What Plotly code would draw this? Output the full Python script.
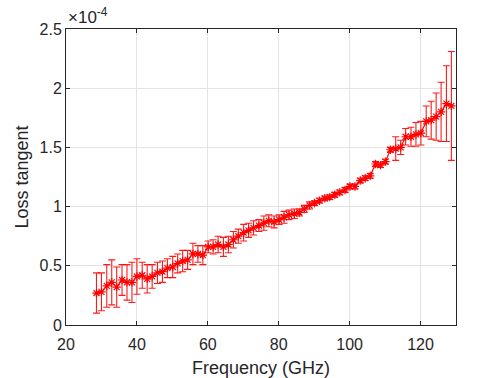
import plotly.graph_objects as go

freq_ghz = [28.6, 30.0, 31.5, 32.9, 34.3, 35.8, 37.2, 38.6, 40.0, 41.5,
            42.9, 44.3, 45.8, 47.2, 48.6, 50.1, 51.5, 52.9, 54.3, 55.8,
            57.2, 58.6, 60.1, 61.5, 62.9, 64.4, 65.8, 67.2, 68.6, 70.1,
            71.5, 72.9, 74.4, 75.8, 77.2, 78.7, 80.1, 81.5, 82.9, 84.4,
            85.8, 87.2, 88.7, 90.1, 91.5, 93.0, 94.4, 95.8, 97.2, 98.7,
            100.1, 101.5, 103.0, 104.4, 105.8, 107.3, 108.7, 110.1, 111.5, 113.0,
            114.4, 115.8, 117.3, 118.7, 120.1, 121.6, 123.0, 124.4, 125.8, 127.3,
            128.7]

loss_tangent_e4 = [0.27, 0.28, 0.33, 0.36, 0.32, 0.38, 0.36, 0.36, 0.41, 0.42,
                   0.39, 0.41, 0.44, 0.45, 0.48, 0.49, 0.52, 0.54, 0.55, 0.60,
                   0.60, 0.59, 0.66, 0.66, 0.68, 0.66, 0.68, 0.72, 0.75, 0.78,
                   0.80, 0.82, 0.84, 0.86, 0.88, 0.87, 0.89, 0.91, 0.93, 0.94,
                   0.95, 0.98, 1.01, 1.03, 1.05, 1.07, 1.08, 1.10, 1.12, 1.14,
                   1.17, 1.17, 1.22, 1.24, 1.26, 1.36, 1.35, 1.38, 1.48, 1.49,
                   1.50, 1.59, 1.59, 1.61, 1.62, 1.72, 1.73, 1.76, 1.80, 1.87,
                   1.85]

error_e4 = [0.17, 0.16, 0.18, 0.19, 0.17, 0.13, 0.15, 0.17, 0.15, 0.11,
            0.12, 0.10, 0.09, 0.09, 0.08, 0.09, 0.08, 0.09, 0.08, 0.09,
            0.07, 0.08, 0.05, 0.06, 0.07, 0.08, 0.07, 0.07, 0.06, 0.07,
            0.06, 0.06, 0.05, 0.06, 0.05, 0.05, 0.04, 0.05, 0.04, 0.04,
            0.03, 0.03, 0.03, 0.02, 0.02, 0.02, 0.02, 0.02, 0.02, 0.02,
            0.02, 0.02, 0.02, 0.02, 0.02, 0.02, 0.02, 0.02, 0.02, 0.10,
            0.06, 0.07, 0.08, 0.10, 0.10, 0.13, 0.16, 0.20, 0.25, 0.32,
            0.46]

x_ticks = [20, 40, 60, 80, 100, 120]
y_ticks = [0, 0.5, 1, 1.5, 2, 2.5]
y_tick_labels = ["0", "0.5", "1", "1.5", "2", "2.5"]

axis_color = "#262626"
grid_color = "#e3e3e3"
font_family = "Liberation Sans, Arial, sans-serif"

fig = go.Figure()
fig.add_trace(go.Scatter(
    x=freq_ghz,
    y=loss_tangent_e4,
    mode="lines+markers",
    line=dict(color="#ff0000", width=1.2),
    marker=dict(symbol="asterisk-open", size=7, color="#ff0000",
                line=dict(color="#ff0000", width=1.2)),
    error_y=dict(type="data", array=error_e4, visible=True,
                 color="rgba(255,0,0,0.9)", thickness=1.1, width=3.5),
    showlegend=False,
))

fig.update_layout(
    width=504, height=378,
    margin=dict(l=66, r=48, t=29, b=53),
    paper_bgcolor="white", plot_bgcolor="white",
    font=dict(family=font_family, size=16, color=axis_color),
    xaxis=dict(
        range=[20, 130], tickvals=x_ticks,
        showgrid=True, gridcolor=grid_color, gridwidth=1,
        showline=True, linecolor=axis_color, linewidth=1, mirror="ticks",
        ticks="inside", ticklen=4, tickcolor=axis_color,
        ticklabelstandoff=5, automargin=False,
        zeroline=False,
        title=dict(text="Frequency (GHz)", font=dict(size=18), standoff=10),
    ),
    yaxis=dict(
        range=[0, 2.5], tickvals=y_ticks, ticktext=y_tick_labels,
        showgrid=True, gridcolor=grid_color, gridwidth=1,
        showline=True, linecolor=axis_color, linewidth=1, mirror="ticks",
        ticks="inside", ticklen=4, tickcolor=axis_color,
        automargin=False,
        zeroline=False,
        title=dict(text="Loss tangent", font=dict(size=18), standoff=6),
    ),
    annotations=[dict(
        text="×10<sup>-4</sup>", xref="paper", yref="paper",
        x=0, y=1, xanchor="left", yanchor="bottom", yshift=0,
        showarrow=False, font=dict(size=17, color=axis_color),
    )],
)

fig.write_html("out.html", config={"displayModeBar": False},
               post_script="document.body.style.margin='0';")
